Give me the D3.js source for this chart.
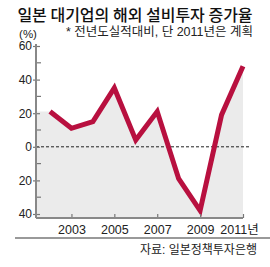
<!DOCTYPE html>
<html>
<head>
<meta charset="utf-8">
<script src="https://cdn.jsdelivr.net/npm/d3@7"></script>
<style>
  body { margin: 0; background: #fff; }
  svg text { font-family: "Liberation Sans", "Noto Sans CJK KR", sans-serif; fill: #222; }
</style>
</head>
<body>
<div id="chart"></div>
<script>
// data
var years = [2002, 2003, 2004, 2005, 2006, 2007, 2008, 2009, 2010, 2011];
var growth = [21, 11, 15, 35, 4, 21, -19, -38, 19, 48];
var yTicks = [60, 40, 20, 0, -20, -40];
var xTicks = [2003, 2005, 2007, 2009, 2011];

var title = "일본 대기업의 해외 설비투자 증가율";
var subtitle = "* 전년도실적대비, 단 2011년은 계획";
var source = "자료: 일본정책투자은행";

var svgWidth = 270;
var svgHeight = 267;

var margin = { top: 46, right: 27, bottom: 49, left: 36 };
var chartWidth = svgWidth - margin.left - margin.right;
var chartHeight = svgHeight - margin.top - margin.bottom;

var svg = d3.select("#chart")
  .append("svg")
  .attr("width", svgWidth)
  .attr("height", svgHeight);

// title + note
svg.append("text")
  .attr("x", 135)
  .attr("y", 21)
  .attr("text-anchor", "middle")
  .style("font-family", "'Noto Sans CJK KR', sans-serif")
  .style("font-size", "16px")
  .style("font-weight", "500")
  .style("fill", "#111")
  .text(title);

svg.append("text")
  .attr("x", 253)
  .attr("y", 36)
  .attr("text-anchor", "end")
  .style("font-size", "12.5px")
  .text(subtitle);

svg.append("text")
  .attr("x", 28)
  .attr("y", 38)
  .attr("text-anchor", "middle")
  .style("font-size", "11.5px")
  .text("(%)");

var chartGroup = svg.append("g")
  .attr("transform", `translate(${margin.left}, ${margin.top})`);

var xScale = d3.scaleLinear()
  .domain([2002, 2011])
  .range([14, 207]);

var yScale = d3.scaleLinear()
  .domain([-40, 60])
  .range([chartHeight - 4, 0]);

// gray area under the line, starts at the axis
var areaData = [{ year: null, v: growth[0] }].concat(years.map((y, i) => ({ year: y, v: growth[i] })));
var area = d3.area()
  .x(d => d.year === null ? 0 : xScale(d.year))
  .y0(chartHeight)
  .y1(d => yScale(d.v));

chartGroup.append("path")
  .datum(areaData)
  .attr("d", area)
  .attr("fill", "#ebebeb");

// zero line
chartGroup.append("line")
  .attr("x1", 0)
  .attr("x2", xScale(2011) + 7)
  .attr("y1", yScale(0))
  .attr("y2", yScale(0))
  .attr("stroke", "#222")
  .attr("stroke-width", 1)
  .attr("stroke-dasharray", "3,2");

// line
var line = d3.line()
  .x((d, i) => xScale(years[i]))
  .y(d => yScale(d));

chartGroup.append("path")
  .datum(growth)
  .attr("d", line)
  .attr("fill", "none")
  .attr("stroke", "#b8103f")
  .attr("stroke-width", 5)
  .attr("stroke-linejoin", "miter");

// y axis
var leftAxis = d3.axisLeft(yScale)
  .tickValues(yTicks)
  .tickFormat(d => Math.abs(d))
  .tickSizeInner(-4)
  .tickSizeOuter(0)
  .tickPadding(4);

var yAxis = chartGroup.append("g").call(leftAxis);
yAxis.select(".domain").remove();
yAxis.selectAll(".tick line")
  .attr("x1", -3)
  .attr("x2", 4)
  .attr("stroke", "#777")
  .attr("stroke-width", 1.2);
yAxis.selectAll(".tick text")
  .attr("x", -4)
  .style("font-size", "12px")
  .style("fill", "#222");

// minor ticks
var minor = d3.range(-30, 60, 20);
chartGroup.selectAll(".minor")
  .data(minor)
  .enter()
  .append("line")
  .attr("x1", 0)
  .attr("x2", 5)
  .attr("y1", d => yScale(d))
  .attr("y2", d => yScale(d))
  .attr("stroke", "#777")
  .attr("stroke-width", 1.2);

chartGroup.append("line")
  .attr("x1", 0)
  .attr("x2", 0)
  .attr("y1", -2)
  .attr("y2", chartHeight)
  .attr("stroke", "#888")
  .attr("stroke-width", 2);

// x axis
var bottomAxis = d3.axisBottom(xScale)
  .tickValues(xTicks)
  .tickFormat(d => d === 2011 ? d + "년" : d)
  .tickSizeInner(-4)
  .tickSizeOuter(0)
  .tickPadding(7);

var xAxis = chartGroup.append("g")
  .attr("transform", `translate(0, ${chartHeight})`)
  .call(bottomAxis);
xAxis.select(".domain").remove();
xAxis.selectAll(".tick line")
  .attr("stroke", "#777")
  .attr("stroke-width", 1.2);
xAxis.selectAll(".tick text")
  .style("font-size", "12.5px")
  .style("fill", "#222")
  .attr("dx", d => d === 2011 ? -4 : 0);

chartGroup.append("line")
  .attr("x1", 0)
  .attr("x2", xScale(2011))
  .attr("y1", chartHeight)
  .attr("y2", chartHeight)
  .attr("stroke", "#888")
  .attr("stroke-width", 2);

// footer
svg.append("line")
  .attr("x1", 15)
  .attr("x2", 270)
  .attr("y1", 238)
  .attr("y2", 238)
  .attr("stroke", "#999")
  .attr("stroke-width", 2);

svg.append("text")
  .attr("x", 257)
  .attr("y", 254)
  .attr("text-anchor", "end")
  .style("font-size", "12px")
  .text(source);
</script>
</body>
</html>
